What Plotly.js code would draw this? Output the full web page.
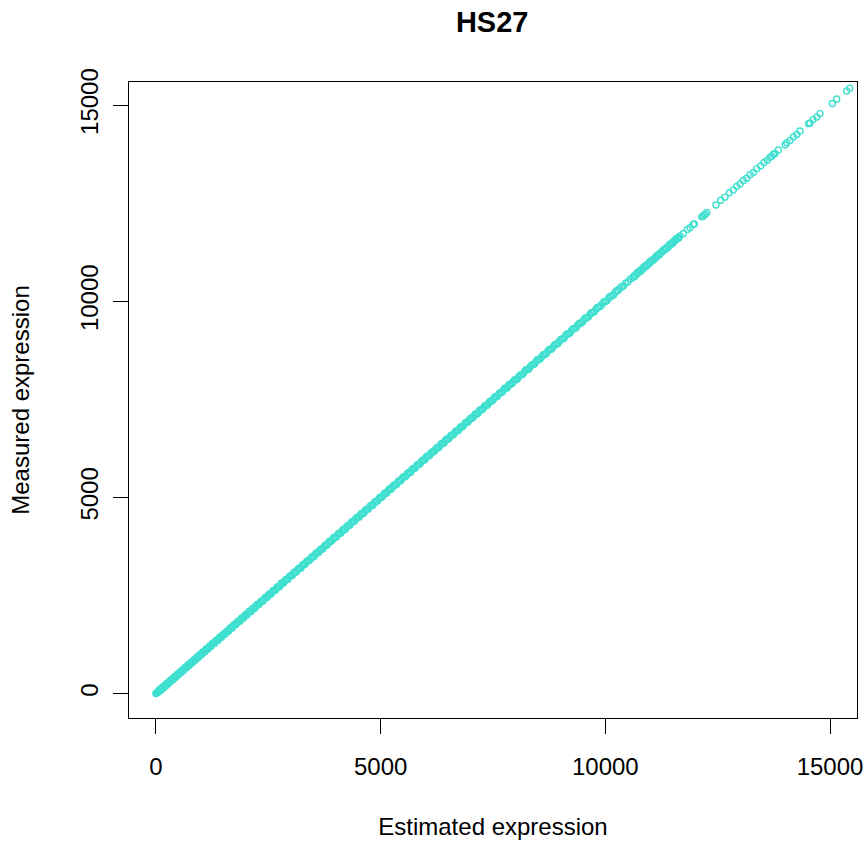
<!DOCTYPE html>
<html>
<head>
<meta charset="utf-8">
<script src="https://cdn.plot.ly/plotly-3.0.1.min.js"></script>
<style>html,body{margin:0;padding:0;background:#fff;}#chart{width:868px;height:843px;}</style>
</head>
<body>
<div id="chart"></div>
<script>
var chartTitle = "HS27";
var xLabel = "Estimated expression";
var yLabel = "Measured expression";
var tickValues = [0, 5000, 10000, 15000];
var tickLabels = ["0", "5000", "10000", "15000"];

var estimated = [0, 12, 25, 41, 58, 77, 95, 118, 140, 163, 187, 210, 236, 261, 289, 315, 342, 370, 398, 427, 455, 486, 514, 545, 574, 606, 637, 669, 700, 733, 765, 798, 830, 864, 897, 931, 966, 1000, 1035, 1071, 1106, 1142, 1178, 1215, 1252, 1290, 1327, 1365, 1403, 1442, 1481, 1520, 1560, 1600, 1640, 1681, 1721, 1762, 1803, 1845, 1887, 1929, 1971, 2014, 2057, 2100, 2143, 2187, 2231, 2275, 2319, 2364, 2409, 2454, 2499, 2545, 2590, 2636, 2682, 2729, 2775, 2822, 2869, 2916, 2963, 3011, 3058, 3106, 3154, 3202, 3250, 3299, 3347, 3396, 3445, 3494, 3543, 3592, 3642, 3691, 3741, 3791, 3840, 3890, 3940, 3990, 4041, 4091, 4141, 4192, 4242, 4293, 4344, 4395, 4446, 4497, 4548, 4599, 4651, 4702, 4753, 4805, 4857, 4908, 4960, 5012, 5064, 5116, 5168, 5220, 5272, 5325, 5377, 5429, 5482, 5534, 5587, 5640, 5692, 5745, 5798, 5851, 5904, 5957, 6010, 6063, 6116, 6170, 6223, 6276, 6330, 6383, 6437, 6490, 6544, 6598, 6651, 6705, 6759, 6813, 6867, 6921, 6975, 7029, 7083, 7137, 7192, 7246, 7300, 7355, 7409, 7464, 7518, 7573, 7628, 7682, 7737, 7792, 7847, 7902, 7957, 8012, 8075, 8139, 8202, 8266, 8330, 8395, 8458, 8523, 8588, 8652, 8717, 8783, 8849, 8914, 8981, 9047, 9114, 9180, 9248, 9315, 9383, 9451, 9519, 9588, 9656, 9725, 9795, 9864, 9934, 10004, 10075, 10146, 10217, 10282, 10364, 10620, 10688, 10757, 10826, 10896, 10966, 11036, 11106, 11177, 11248, 11320, 11392, 11464, 11536, 11608, 11660, 11736, 11825, 11884, 11958, 11980, 12145, 12172, 12196, 12225, 12256, 12463, 12567, 12663, 12759, 12848, 12923, 12997, 13070, 13146, 13220, 13293, 13368, 13457, 13531, 13605, 13665, 13703, 13739, 13776, 13850, 13999, 14036, 14110, 14183, 14259, 14333, 14520, 14555, 14622, 14704, 14777, 15051, 15149, 15371, 15438];

var measured = [3, 9, 31, 38, 62, 71, 101, 113, 146, 158, 192, 205, 243, 255, 296, 309, 348, 364, 405, 421, 461, 480, 521, 539, 580, 600, 644, 662, 707, 726, 772, 791, 837, 858, 904, 924, 973, 994, 1042, 1064, 1113, 1135, 1186, 1208, 1259, 1283, 1335, 1358, 1410, 1435, 1489, 1513, 1567, 1592, 1648, 1674, 1729, 1754, 1811, 1837, 1895, 1921, 1979, 2006, 2065, 2092, 2151, 2179, 2239, 2267, 2327, 2356, 2417, 2446, 2507, 2537, 2598, 2628, 2690, 2721, 2783, 2814, 2877, 2908, 2971, 3003, 3066, 3098, 3162, 3194, 3258, 3291, 3355, 3388, 3453, 3486, 3551, 3584, 3650, 3683, 3749, 3783, 3848, 3882, 3948, 3982, 4049, 4083, 4149, 4184, 4250, 4285, 4352, 4387, 4454, 4489, 4556, 4591, 4659, 4694, 4761, 4797, 4865, 4900, 4968, 5004, 5072, 5108, 5176, 5212, 5280, 5317, 5385, 5421, 5490, 5526, 5595, 5632, 5700, 5737, 5806, 5843, 5912, 5949, 6018, 6055, 6124, 6162, 6231, 6268, 6338, 6375, 6445, 6482, 6552, 6590, 6659, 6697, 6767, 6805, 6875, 6913, 6983, 7021, 7091, 7129, 7200, 7238, 7308, 7347, 7417, 7456, 7526, 7565, 7636, 7674, 7745, 7784, 7855, 7894, 7965, 8004, 8083, 8131, 8210, 8258, 8338, 8387, 8466, 8515, 8596, 8644, 8725, 8775, 8857, 8906, 8989, 9039, 9122, 9172, 9256, 9307, 9391, 9443, 9527, 9580, 9664, 9717, 9803, 9856, 9942, 9996, 10083, 10138, 10225, 10274, 10372, 10612, 10696, 10749, 10834, 10888, 10974, 11028, 11114, 11169, 11256, 11312, 11400, 11456, 11544, 11600, 11668, 11728, 11833, 11876, 11966, 11972, 12153, 12164, 12204, 12217, 12264, 12455, 12575, 12655, 12767, 12840, 12931, 12989, 13078, 13138, 13228, 13285, 13376, 13449, 13539, 13597, 13673, 13695, 13747, 13768, 13858, 13991, 14044, 14102, 14191, 14251, 14341, 14528, 14547, 14630, 14696, 14785, 15043, 15157, 15363, 15433];

var estimatedDense = [6, 18, 33, 50, 67, 86, 106, 129, 151, 175, 198, 223, 248, 275, 302, 328, 356, 384, 412, 441, 470, 500, 529, 559, 590, 621, 653, 684, 716, 749, 781, 814, 847, 880, 914, 948, 983, 1017, 1053, 1088, 1124, 1160, 1196, 1233, 1271, 1308, 1346, 1384, 1422, 1461, 1500, 1540, 1580, 1620, 1660, 1701, 1741, 1782, 1824, 1866, 1908, 1950, 1992, 2035, 2078, 2121, 2165, 2209, 2253, 2297, 2341, 2386, 2431, 2476, 2522, 2567, 2613, 2659, 2705, 2752, 2798, 2845, 2892, 2939, 2987, 3034, 3082, 3130, 3178, 3226, 3274, 3323, 3371, 3420, 3469, 3518, 3567, 3617, 3666, 3716, 3766, 3815, 3865, 3915, 3965, 4015, 4066, 4116, 4166, 4217, 4267, 4318, 4369, 4420, 4471, 4522, 4573, 4625, 4676, 4727, 4779, 4831, 4882, 4934, 4986, 5038, 5090, 5142, 5194, 5246, 5298, 5351, 5403, 5455, 5508, 5560, 5613, 5666, 5718, 5771, 5824, 5877, 5930, 5983, 6036, 6089, 6143, 6196, 6249, 6303, 6356, 6410, 6463, 6517, 6571, 6624, 6678, 6732, 6786, 6840, 6894, 6948, 7002, 7056, 7110, 7164, 7219, 7273, 7327, 7382, 7436, 7491, 7545, 7600, 7655, 7709, 7764, 7819, 7874, 7929, 7984, 8043, 8107, 8170, 8234, 8298, 8362, 8426, 8490, 8555, 8620, 8684, 8750, 8816, 8881, 8947, 9014, 9080, 9147, 9214, 9281, 9349, 9417, 9485, 9553, 9622, 9690, 9760, 9829, 9899, 9969, 10039, 10110, 10181, 10250, 10654, 10722, 10791, 10861, 10931, 11001, 11071, 11141, 11212, 11284, 11356, 11428, 11500, 11572, 11634, 10320, 10400, 10450, 10505, 10560, 10637, 10705, 10774, 10843, 10913, 10983, 11053, 11123, 11194, 11266, 11338, 11410, 11482, 11554, 11620];

var measuredDense = [8, 14, 37, 44, 85, 68, 126, 109, 170, 156, 218, 204, 269, 255, 321, 308, 377, 364, 431, 421, 491, 480, 548, 539, 611, 601, 672, 664, 737, 729, 800, 794, 868, 860, 933, 928, 1004, 997, 1072, 1068, 1145, 1140, 1215, 1213, 1292, 1288, 1365, 1364, 1443, 1441, 1519, 1520, 1601, 1600, 1679, 1681, 1762, 1762, 1843, 1846, 1929, 1930, 2011, 2015, 2099, 2101, 2184, 2189, 2274, 2277, 2360, 2366, 2452, 2456, 2541, 2547, 2634, 2639, 2724, 2732, 2819, 2825, 2911, 2919, 3008, 3014, 3101, 3110, 3199, 3206, 3293, 3303, 3392, 3400, 3488, 3498, 3588, 3597, 3685, 3696, 3787, 3795, 3884, 3895, 3986, 3995, 4085, 4096, 4187, 4197, 4286, 4298, 4390, 4400, 4490, 4502, 4594, 4605, 4695, 4707, 4800, 4811, 4901, 4914, 5007, 5018, 5109, 5122, 5215, 5226, 5317, 5331, 5424, 5435, 5527, 5540, 5634, 5646, 5737, 5751, 5845, 5857, 5949, 5963, 6057, 6069, 6162, 6176, 6270, 6283, 6375, 6390, 6484, 6497, 6590, 6604, 6699, 6712, 6805, 6820, 6915, 6928, 7021, 7036, 7131, 7144, 7238, 7253, 7348, 7362, 7455, 7471, 7566, 7580, 7674, 7689, 7785, 7799, 7893, 7909, 8005, 8023, 8126, 8150, 8255, 8278, 8381, 8406, 8511, 8535, 8639, 8664, 8771, 8796, 8900, 8927, 9035, 9060, 9166, 9194, 9302, 9329, 9436, 9465, 9574, 9602, 9709, 9740, 9850, 9879, 9988, 10019, 10131, 10161, 10269, 10634, 10743, 10771, 10880, 10911, 11022, 11051, 11160, 11192, 11305, 11336, 11447, 11480, 11593, 11614, 10330, 10392, 10461, 10497, 10571, 10649, 10694, 10786, 10831, 10925, 10971, 11064, 11111, 11206, 11254, 11350, 11398, 11494, 11542, 11631];

var fontFam = "Liberation Sans, Arial, sans-serif";
var turquoise = "#40E0D0";

var trace = {
  type: "scatter",
  mode: "markers",
  x: estimated.concat(estimatedDense),
  y: measured.concat(measuredDense),
  marker: {
    symbol: "circle-open",
    size: 6,
    color: turquoise,
    line: {color: turquoise, width: 1.4}
  },
  hoverinfo: "x+y"
};

var layout = {
  width: 868,
  height: 843,
  margin: {l: 129, r: 11, t: 82, b: 125},
  paper_bgcolor: "#ffffff",
  plot_bgcolor: "#ffffff",
  showlegend: false,
  font: {family: fontFam, size: 24, color: "#000"},
  title: {
    text: "<b>" + chartTitle + "</b>",
    font: {family: fontFam, size: 29, color: "#000"},
    x: 0.567, xanchor: "center",
    y: 0.974, yanchor: "middle", yref: "container"
  },
  xaxis: {
    range: [-600, 15600],
    tickmode: "array",
    tickvals: tickValues,
    ticktext: tickLabels,
    ticks: "outside",
    ticklen: 15,
    tickwidth: 1,
    tickcolor: "#000",
    ticklabelstandoff: 12,
    showgrid: false,
    zeroline: false,
    showline: true,
    mirror: true,
    linecolor: "#000",
    linewidth: 1,
    tickfont: {family: fontFam, size: 24, color: "#000"},
    automargin: false,
    title: {text: xLabel, font: {family: fontFam, size: 24, color: "#000"}, standoff: 39}
  },
  yaxis: {
    range: [-620, 15590],
    tickmode: "array",
    tickvals: tickValues,
    ticktext: tickLabels,
    tickangle: -90,
    ticks: "outside",
    ticklen: 15,
    tickwidth: 1,
    tickcolor: "#000",
    ticklabelstandoff: 5,
    showgrid: false,
    zeroline: false,
    showline: true,
    mirror: true,
    linecolor: "#000",
    linewidth: 1,
    tickfont: {family: fontFam, size: 24, color: "#000"},
    automargin: false,
    title: {text: yLabel, font: {family: fontFam, size: 24, color: "#000"}, standoff: 40}
  }
};

Plotly.newPlot("chart", [trace], layout, {displayModeBar: false, staticPlot: true});
</script>
</body>
</html>
